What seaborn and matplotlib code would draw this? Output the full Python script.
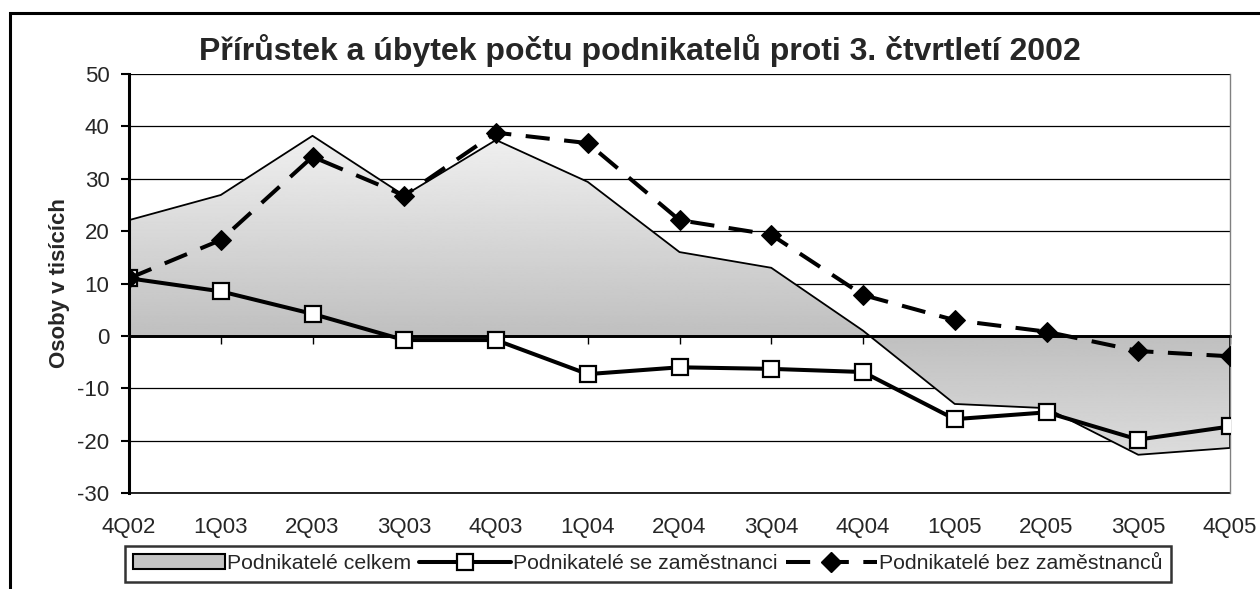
import numpy as np
import pandas as pd
import matplotlib
matplotlib.use("Agg")
import matplotlib.pyplot as plt
import seaborn as sns
from matplotlib.patches import Patch, Rectangle
from matplotlib.lines import Line2D

# data (thousands of persons, change vs 3Q02)
quarters = ["4Q02", "1Q03", "2Q03", "3Q03", "4Q03", "1Q04", "2Q04",
            "3Q04", "4Q04", "1Q05", "2Q05", "3Q05", "4Q05"]
celkem = [22.1, 26.9, 38.2, 26.8, 37.4, 29.4, 16.0, 13.0, 1.0, -13.0, -13.8, -22.7, -21.4]
se_zam = [11.0, 8.5, 4.2, -0.8, -0.8, -7.3, -6.0, -6.3, -6.9, -15.9, -14.6, -19.8, -17.3]
bez_zam = [11.0, 18.3, 34.2, 26.8, 38.8, 36.8, 22.1, 19.3, 7.8, 3.0, 0.8, -2.9, -3.9]

labels = ["Podnikatelé celkem", "Podnikatelé se zaměstnanci", "Podnikatelé bez zaměstnanců"]
title = "Přírůstek a úbytek počtu podnikatelů proti 3. čtvrtletí 2002"

df = pd.DataFrame({"pos": np.arange(len(quarters)), "celkem": celkem,
                   "se": se_zam, "bez": bez_zam})

sns.set_style("white")
plt.rcParams["font.family"] = ["Liberation Sans", "DejaVu Sans"]
plt.rcParams["axes.unicode_minus"] = False

fig = plt.figure(figsize=(12.6, 5.89), dpi=100)
ax = fig.add_axes([129 / 1260, 1 - 493 / 589, 1101 / 1260, 419 / 589])

# outer frame of the chart object
fig.patches.append(Rectangle((10 / 1260, -0.2), 1.3, 1.2 - 13 / 589,
                             transform=fig.transFigure, fill=False,
                             edgecolor="black", lw=2.2, zorder=0))

ymin, ymax = -30, 50
# gradient filled area (darker near zero, lighter away from it)
poly = ax.fill_between(df["pos"], 0, df["celkem"], facecolor="none",
                       edgecolor="none", zorder=1)
yy = np.linspace(ymax, ymin, 500)
shade = 0.75 + 0.19 * np.clip(np.abs(yy) / 38, 0, 1)
grad = np.repeat(shade[:, None], 2, axis=1)
img = ax.imshow(grad, cmap="gray", vmin=0, vmax=1, aspect="auto",
                extent=[0, len(quarters) - 1, ymin, ymax], zorder=1)
img.set_clip_path(poly.get_paths()[0], transform=ax.transData)
ax.plot(df["pos"], df["celkem"], color="black", lw=1.3, zorder=2)
ax.vlines(df["pos"].iloc[-1], df["celkem"].iloc[-1], 0, color="black", lw=1.3, zorder=2)

sns.lineplot(data=df, x="pos", y="se", ax=ax, color="black", lw=2.9,
             marker="s", markersize=12, markerfacecolor="white",
             markeredgecolor="black", markeredgewidth=1.6, zorder=4)
sns.lineplot(data=df, x="pos", y="bez", ax=ax, color="black", lw=2.9,
             linestyle=(0, (6, 3.6)), marker="D", markersize=10,
             markerfacecolor="black", markeredgecolor="black", zorder=5)

ax.set_xlim(0, len(quarters) - 1)
ax.set_ylim(ymin, ymax)
ax.set_yticks(np.arange(ymin, ymax + 1, 10))
ax.yaxis.grid(True, color="black", lw=0.9, zorder=0)
ax.set_axisbelow(True)
ax.axhline(0, color="black", lw=2.0, zorder=3)

# category axis crosses at zero, labels at the bottom
ax.spines["bottom"].set_position(("data", 0))
ax.spines["bottom"].set_linewidth(2.0)
ax.set_xticks(df["pos"])
ax.tick_params(axis="x", bottom=True, direction="out", length=6, width=1,
               labelbottom=False, color="black")
sec = ax.secondary_xaxis(0)
sec.set_xticks(df["pos"], quarters)
sec.tick_params(length=0, pad=17, labelsize=16)
sec.spines["bottom"].set_color("black")
sec.spines["bottom"].set_linewidth(1.2)

ax.tick_params(axis="y", left=True, direction="out", length=6, width=1.5,
               pad=8, labelsize=16, color="black")
ax.spines["left"].set_linewidth(2.2)
ax.spines["left"].set_color("black")
ax.spines["top"].set_visible(False)
ax.spines["right"].set_color("#808080")
ax.spines["right"].set_linewidth(1.0)

ax.set_xlabel("")
ax.set_ylabel("Osoby v tisících", fontsize=16, fontweight="bold", labelpad=5)
fig.text(640 / 1260, 1 - 51 / 589, title, ha="center", va="center",
         fontsize=23, fontweight="bold")

handles = [
    Patch(facecolor="#c4c4c4", edgecolor="black", lw=1.5),
    Line2D([], [], color="black", lw=2.9, marker="s", markersize=12,
           markerfacecolor="white", markeredgecolor="black", markeredgewidth=1.6),
    Line2D([], [], color="black", lw=2.9, linestyle=(0, (6, 3.6)), marker="D",
           markersize=10, markerfacecolor="black"),
]
leg = fig.legend(handles, labels, loc="center", ncol=3,
                 bbox_to_anchor=(648 / 1260, 1 - 563.5 / 589),
                 fontsize=15.3, frameon=True, fancybox=False, shadow=False,
                 handlelength=4.3, handleheight=0.7, handletextpad=0.1,
                 columnspacing=0.4, borderpad=0.4, borderaxespad=0)
leg.get_frame().set_edgecolor("black")
leg.get_frame().set_linewidth(1.8)

fig.savefig("out.png", dpi=100)
